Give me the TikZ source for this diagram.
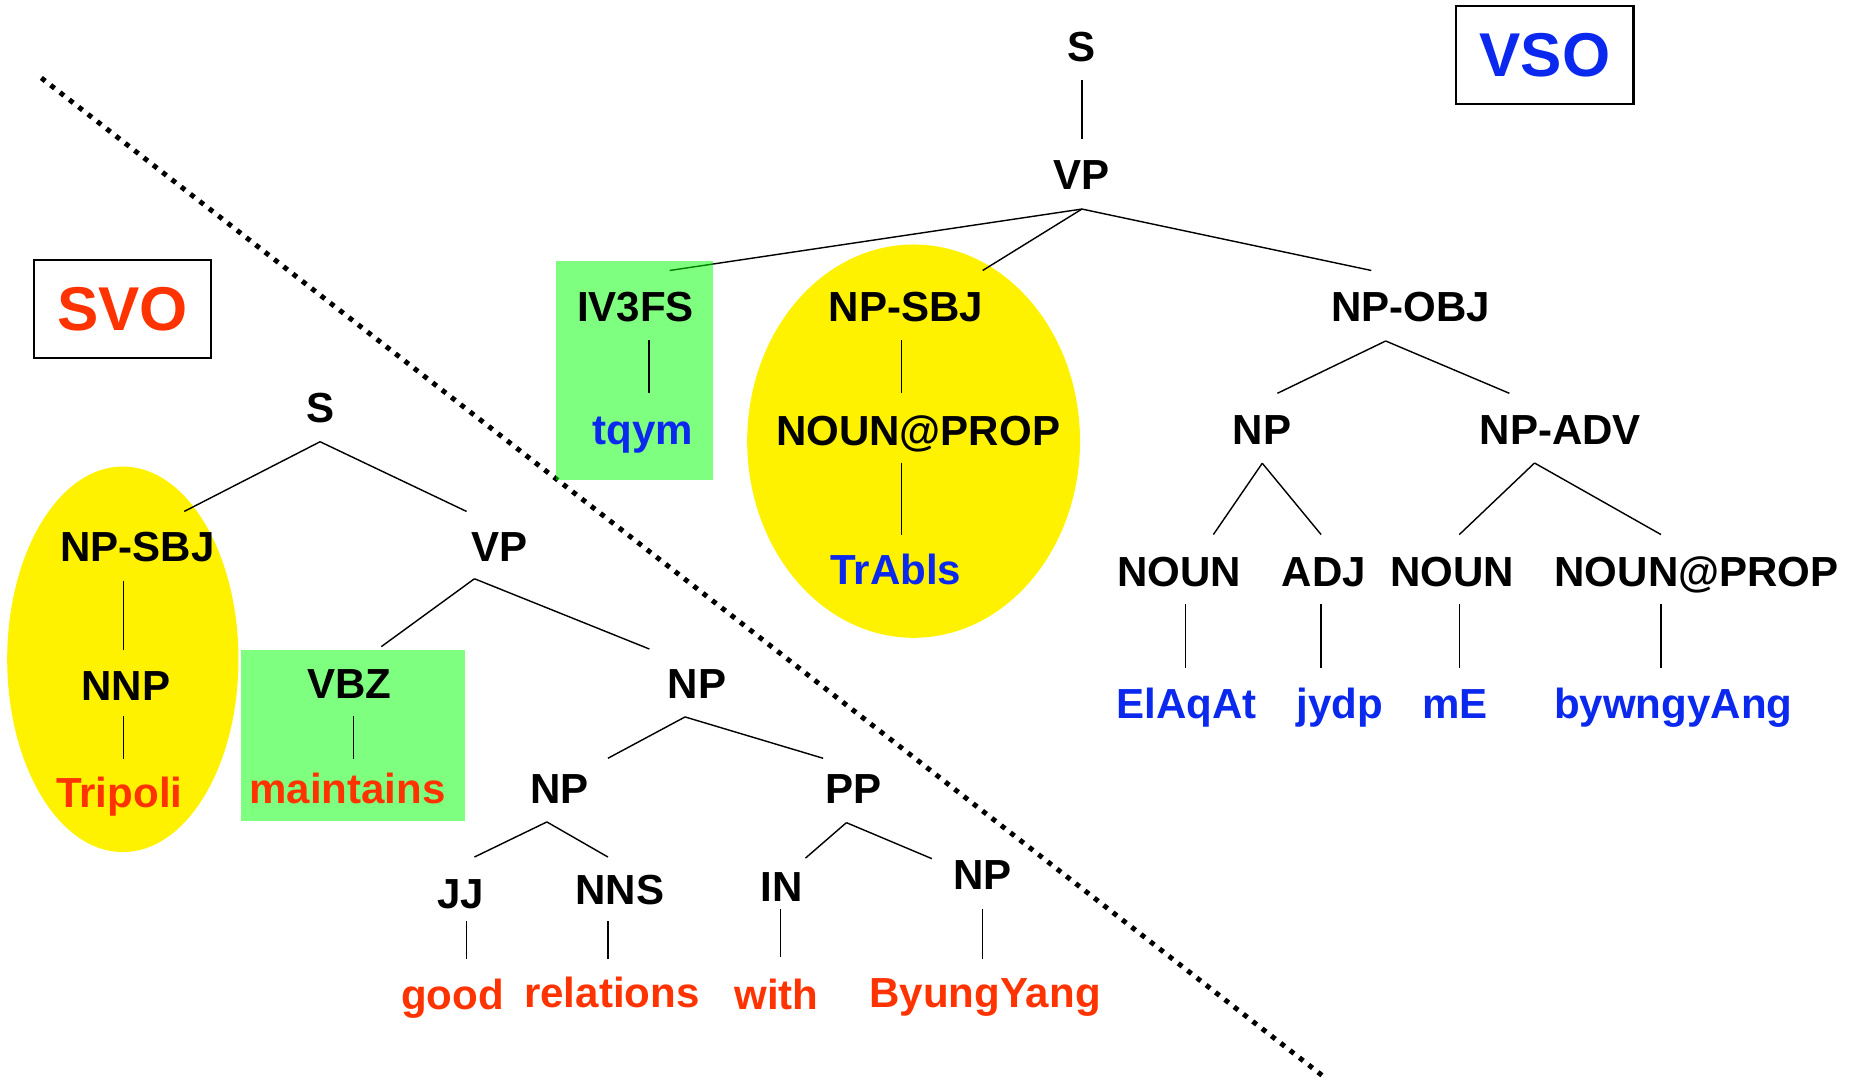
\documentclass[tikz,border=0pt]{standalone}
\usepackage{fontspec}
\setmainfont{Liberation Sans}
\usetikzlibrary{shapes.geometric}
\definecolor{wred}{HTML}{FF3300}
\definecolor{wblue}{HTML}{0A28EE}
\begin{document}
\begin{tikzpicture}[x=0.5pt,y=-0.5pt,
  lab/.style={font=\fontsize{17.8}{20}\selectfont\bfseries,anchor=base,inner sep=0pt},
  cat/.style={lab,text=black},
  vw/.style={lab,text=wblue},
  sw/.style={lab,text=wred},
  bigbox/.style={draw=black,line width=0.9pt,minimum width=75pt,minimum height=41.5pt,inner sep=0pt,font=\fontsize{26.2}{30}\selectfont\bfseries},
  edge/.style={line width=0.6pt},
  greenbox/.style={fill=green,fill opacity=0.5,inner sep=0pt},
  yellowell/.style={ellipse,fill=yellow,inner sep=0pt},
  divider/.style={line width=2.1pt,dash pattern=on 2.1pt off 2.9pt}
]
\useasboundingbox (0,0) rectangle (1568,914);

% dividing line
\coordinate (d1) at (35,66);
\coordinate (d2) at (1120,911);
\draw[divider] (d1) -- (d2);

% highlight ellipses
\node[yellowell,minimum width=140.9pt,minimum height=166.5pt] (yv) at (773.5,373.5) {};
\node[yellowell,minimum width=97.9pt,minimum height=163.2pt] (ys) at (104,558.2) {};

% ---------- VSO tree coordinates ----------
\coordinate (vS-b) at (916,67.6);
\coordinate (vVP-t) at (916,117.7);
\coordinate (vVP-b) at (916,177);
\coordinate (vIV-t) at (567,229);
\coordinate (vSBJ-t) at (832,229);
\coordinate (vOBJ-t) at (1161,229);
\coordinate (vIV-b) at (549.4,288);
\coordinate (vtq-t) at (549.4,333);
\coordinate (vSBJ-b) at (763.2,288);
\coordinate (vNP-t) at (763.2,333);
\coordinate (vNP-b) at (763.2,392);
\coordinate (vTr-t) at (763.2,453);
\coordinate (vOBJ-b) at (1173.2,288.7);
\coordinate (vNP2-t) at (1081.5,333);
\coordinate (vADV-t) at (1277.9,333);
\coordinate (vNP2-b) at (1068.7,392.2);
\coordinate (vN1-t) at (1027.3,452.6);
\coordinate (vADJ-t) at (1118.5,452.6);
\coordinate (vADV-b) at (1299.2,392);
\coordinate (vN2-t) at (1235.5,452.6);
\coordinate (vNP3-t) at (1406.3,452.6);
\coordinate (vN1-b) at (1003.5,511.6);
\coordinate (vEl-t) at (1003.5,565.6);
\coordinate (vADJ-b) at (1118.5,511.6);
\coordinate (vjy-t) at (1118.5,565.6);
\coordinate (vN2-b) at (1235.5,511.6);
\coordinate (vmE-t) at (1235.5,565.6);
\coordinate (vNP3-b) at (1406.3,511.6);
\coordinate (vby-t) at (1406.3,565.6);

% VP -> IV3FS goes under the green box
\draw[edge] (vVP-b) -- (vIV-t);
\node[greenbox,minimum width=66.5pt,minimum height=92.7pt] (gv) at (537.2,313.7) {};

\draw[edge] (vS-b) -- (vVP-t);
\draw[edge] (vVP-b) -- (vSBJ-t);
\draw[edge] (vVP-b) -- (vOBJ-t);
\draw[edge] (vIV-b) -- (vtq-t);
\draw[edge] (vSBJ-b) -- (vNP-t);
\draw[edge] (vNP-b) -- (vTr-t);
\draw[edge] (vOBJ-b) -- (vNP2-t);
\draw[edge] (vOBJ-b) -- (vADV-t);
\draw[edge] (vNP2-b) -- (vN1-t);
\draw[edge] (vNP2-b) -- (vADJ-t);
\draw[edge] (vADV-b) -- (vN2-t);
\draw[edge] (vADV-b) -- (vNP3-t);
\draw[edge] (vN1-b) -- (vEl-t);
\draw[edge] (vADJ-b) -- (vjy-t);
\draw[edge] (vN2-b) -- (vmE-t);
\draw[edge] (vNP3-b) -- (vby-t);

\node[cat] (vS) at (916,52.2) {S};
\node[cat] (vVP) at (916,160.6) {VP};
\node[cat] (vIV) at (538,272.6) {IV3FS};
\node[vw] (vtq) at (544,376) {tqym};
\node[cat] (vSBJ) at (767,272.6) {NP-SBJ};
\node[cat] (vNP) at (777.3,377.4) {NOUN@PROP};
\node[vw] (vTr) at (758.5,495) {TrAbls};
\node[cat] (vOBJ) at (1194.4,272.6) {NP-OBJ};
\node[cat] (vNP2) at (1068.6,376) {NP};
\node[cat] (vADV) at (1321,376) {NP-ADV};
\node[cat] (vN1) at (998.5,496.5) {NOUN};
\node[cat] (vADJ) at (1121,496.5) {ADJ};
\node[cat] (vN2) at (1229.3,496.5) {NOUN};
\node[cat] (vNP3) at (1436.4,496.5) {NOUN@PROP};
\node[vw] (vEl) at (1004.7,608.6) {ElAqAt};
\node[vw] (vjy) at (1134.6,608.6) {jydp};
\node[vw] (vmE) at (1232,608.6) {mE};
\node[vw] (vby) at (1416.7,608.6) {bywngyAng};

% ---------- SVO tree ----------
\node[greenbox,minimum width=95.1pt,minimum height=72.3pt] (gs) at (299,622.7) {};

\coordinate (sS-b) at (271,374);
\coordinate (sSBJ-t) at (156,433);
\coordinate (sVP-t) at (395,433);
\coordinate (sSBJ-b) at (104.5,491.6);
\coordinate (sNNP-t) at (104.5,550.4);
\coordinate (sNNP-b) at (104.5,606);
\coordinate (sTr-t) at (104.5,642.7);
\coordinate (sVP-b) at (401.7,490);
\coordinate (sVBZ-t) at (322.8,547.5);
\coordinate (sNP-t) at (549.8,549.5);
\coordinate (sVBZ-b) at (299.2,606);
\coordinate (sma-t) at (299.2,642.7);
\coordinate (sNP-b) at (580,607);
\coordinate (sNP2-t) at (514.7,642);
\coordinate (sPP-t) at (696.9,642);
\coordinate (sNP2-b) at (463,695.9);
\coordinate (sJJ-t) at (401.7,725.6);
\coordinate (sNNS-t) at (514.7,725.6);
\coordinate (sPP-b) at (716.6,696.5);
\coordinate (sIN-t) at (682,726.5);
\coordinate (sNP3-t) at (789,727);
\coordinate (sJJ-b) at (395,779.8);
\coordinate (sgo-t) at (395,812.3);
\coordinate (sNNS-b) at (514.7,779.8);
\coordinate (sre-t) at (514.7,812.3);
\coordinate (sIN-b) at (660.8,770);
\coordinate (swi-t) at (660.8,810);
\coordinate (sNP3-b) at (832,770);
\coordinate (sBy-t) at (832,812.3);

\draw[edge] (sS-b) -- (sSBJ-t);
\draw[edge] (sS-b) -- (sVP-t);
\draw[edge] (sSBJ-b) -- (sNNP-t);
\draw[edge] (sNNP-b) -- (sTr-t);
\draw[edge] (sVP-b) -- (sVBZ-t);
\draw[edge] (sVP-b) -- (sNP-t);
\draw[edge] (sVBZ-b) -- (sma-t);
\draw[edge] (sNP-b) -- (sNP2-t);
\draw[edge] (sNP-b) -- (sPP-t);
\draw[edge] (sNP2-b) -- (sJJ-t);
\draw[edge] (sNP2-b) -- (sNNS-t);
\draw[edge] (sPP-b) -- (sIN-t);
\draw[edge] (sPP-b) -- (sNP3-t);
\draw[edge] (sJJ-b) -- (sgo-t);
\draw[edge] (sNNS-b) -- (sre-t);
\draw[edge] (sIN-b) -- (swi-t);
\draw[edge] (sNP3-b) -- (sBy-t);

\node[cat] (sS) at (271,357.3) {S};
\node[cat] (sSBJ) at (116.5,475.8) {NP-SBJ};
\node[cat] (sNNP) at (106.7,592.7) {NNP};
\node[sw] (sTr) at (101,684) {Tripoli};
\node[cat] (sVP) at (422.7,475.8) {VP};
\node[cat] (sVBZ) at (295.7,591.1) {VBZ};
\node[sw] (sma) at (294.2,680) {maintains};
\node[cat] (sNP) at (590,591.1) {NP};
\node[cat] (sNP2) at (473.8,680) {NP};
\node[cat] (sPP) at (723,680) {PP};
\node[cat] (sJJ) at (390,769.2) {JJ};
\node[cat] (sNNS) at (524.7,766.2) {NNS};
\node[cat] (sIN) at (662,763.5) {IN};
\node[cat] (sNP3) at (832,752.7) {NP};
\node[sw] (sgo) at (383,854.5) {good};
\node[sw] (sre) at (518,852.6) {relations};
\node[sw] (swi) at (657.3,854.5) {with};
\node[sw] (sBy) at (834,853) {ByungYang};

% ---------- labels ----------
\node[bigbox,text=wblue] (vso) at (1308,46.5) {VSO};
\node[bigbox,text=wred] (svo) at (103.7,261.6) {SVO};
\end{tikzpicture}
\end{document}
